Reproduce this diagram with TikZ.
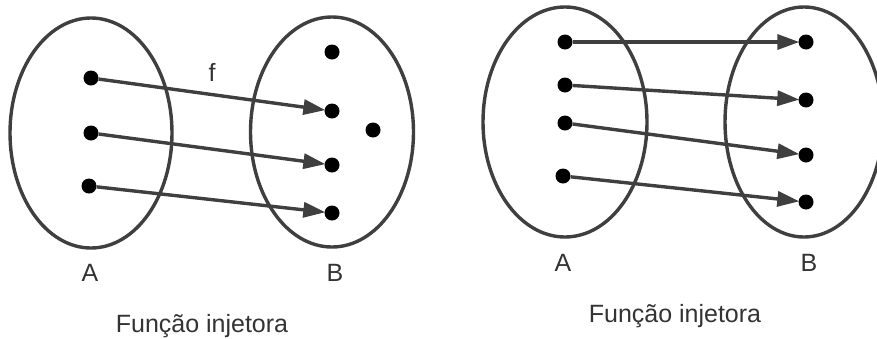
\documentclass[tikz,border=0pt]{standalone}
\usepackage{fontspec}
\setmainfont{Liberation Sans}
\usetikzlibrary{arrows.meta,shapes.geometric}
\definecolor{linec}{HTML}{3f3f3f}
\definecolor{textc}{HTML}{333333}
\tikzset{
  setshape/.style={ellipse, draw=linec, line width=3.4pt, inner sep=0pt},
  dot/.style={circle, fill=black, inner sep=0pt, minimum size=15pt},
  maparrow/.style={draw=linec, line width=3.4pt, -{Triangle[length=22pt,width=15pt]}, shorten >=-1pt},
  lbl/.style={text=textc, font=\fontsize{25}{30}\selectfont, inner sep=0pt}
}
\begin{document}
\begin{tikzpicture}[x=1pt,y=-1pt]
\useasboundingbox (0,0) rectangle (877,338);
\clip (0,0) rectangle (877,338);
% left diagram
\node[setshape, minimum width=162pt, minimum height=230pt] (LA) at (91,133) {};
\node[setshape, minimum width=163pt, minimum height=230pt] (LB) at (332,132) {};
\node[dot] (la1) at (91,78) {};
\node[dot] (la2) at (91,133) {};
\node[dot] (la3) at (89,186) {};
\node[dot] (lb0) at (332,52) {};
\node[dot] (lb1) at (332,111) {};
\node[dot] (lbx) at (373,130) {};
\node[dot] (lb2) at (332,165) {};
\node[dot] (lb3) at (332,213) {};
\draw[maparrow] (la1) -- (lb1);
\draw[maparrow] (la2) -- (lb2);
\draw[maparrow] (la3) -- (lb3);
\node[lbl] (lf) at (212,72) {f};
\node[lbl] (lAl) at (90,273) {A};
\node[lbl] (lBl) at (335,273) {B};
\node[lbl] (lt) at (202,326) {Função injetora};
% right diagram
\node[setshape, minimum width=164pt, minimum height=230pt] (RA) at (565,122) {};
\node[setshape, minimum width=158pt, minimum height=230pt] (RB) at (804,122) {};
\node[dot] (ra1) at (565,42) {};
\node[dot] (ra2) at (565,85) {};
\node[dot] (ra3) at (565,123) {};
\node[dot] (ra4) at (563,176) {};
\node[dot] (rb1) at (806,42) {};
\node[dot] (rb2) at (806,100) {};
\node[dot] (rb3) at (806,155) {};
\node[dot] (rb4) at (806,202) {};
\draw[maparrow] (ra1) -- (rb1);
\draw[maparrow] (ra2) -- (rb2);
\draw[maparrow] (ra3) -- (rb3);
\draw[maparrow] (ra4) -- (rb4);
\node[lbl] (rAl) at (563,263) {A};
\node[lbl] (rBl) at (809,263) {B};
\node[lbl] (rt) at (675,316) {Função injetora};
\end{tikzpicture}
\end{document}
